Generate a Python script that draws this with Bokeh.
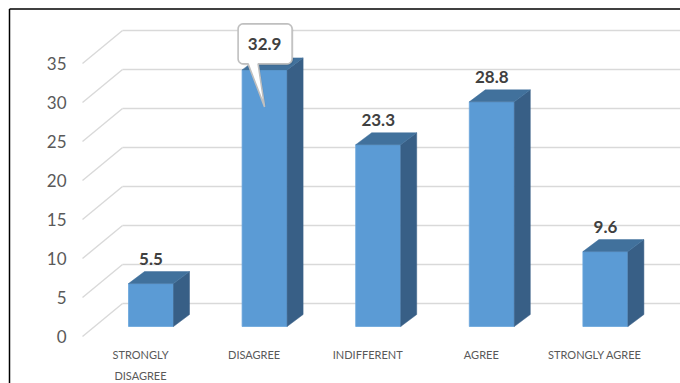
import math

from bokeh.plotting import figure
from bokeh.models import Range1d
from bokeh.core.properties import value
from bokeh.embed import file_html
from bokeh.resources import INLINE

# ---- data -------------------------------------------------------------
categories = ["STRONGLY DISAGREE", "DISAGREE", "INDIFFERENT", "AGREE", "STRONGLY AGREE"]
category_labels = ["STRONGLY\nDISAGREE", "DISAGREE", "INDIFFERENT", "AGREE", "STRONGLY AGREE"]
percentages = [5.5, 32.9, 23.3, 28.8, 9.6]
y_ticks = [0, 5, 10, 15, 20, 25, 30, 35]
callout_category = "DISAGREE"

# ---- canvas geometry (pixels) -----------------------------------------
W, H = 680, 383
SX = 113.6      # pixels per category step
SY = 7.8        # pixels per percentage point
FIRST_PX = 150.5  # centre of the first bar's front face
BASE_PX = 326     # bottom of the bars' front faces

X0 = -FIRST_PX / SX
X1 = X0 + W / SX
Y0 = -(H - BASE_PX) / SY
Y1 = BASE_PX / SY


def ux(px):
    """absolute canvas x (px) -> data x"""
    return X0 + px / SX


def uy(py):
    """absolute canvas y (px, from top) -> data y"""
    return (BASE_PX - py) / SY


def dx(px):
    return px / SX


def dy(px):
    return px / SY


FRONT_LEFT, FRONT_ZERO = 82, 336   # front edge of the floor
BACK_LEFT, BACK_ZERO = 122, 303    # back wall

FONT = value("Lato")
FRONT_COLOR = "#5b9bd5"
SIDE_COLOR = "#385f86"
TOP_COLOR = "#41719c"
GRID_COLOR = "#d9d9d9"
AXIS_TEXT = "#595959"
LABEL_TEXT = "#404040"

p = figure(
    width=W, height=H,
    x_range=Range1d(X0, X1), y_range=Range1d(Y0, Y1),
    x_axis_location=None, y_axis_location=None,
    toolbar_location=None, min_border=0,
    outline_line_color=None, background_fill_color="white",
    border_fill_color="white", output_backend="svg",
)
p.grid.visible = False

# ---- 3-D gridlines: diagonal along the side wall, horizontal on back wall
n = len(y_ticks)
p.segment(x0=[ux(FRONT_LEFT)] * n, y0=[uy(FRONT_ZERO) + t for t in y_ticks],
          x1=[ux(BACK_LEFT)] * n, y1=[uy(BACK_ZERO) + t for t in y_ticks],
          line_color=GRID_COLOR, line_width=1.4)
p.segment(x0=[ux(BACK_LEFT)] * n, y0=[uy(BACK_ZERO) + t for t in y_ticks],
          x1=[X1] * n, y1=[uy(BACK_ZERO) + t for t in y_ticks],
          line_color=GRID_COLOR, line_width=1.4)

# ---- y tick labels on the front plane
p.text(x=[ux(66)] * n, y=[uy(FRONT_ZERO) + t for t in y_ticks],
       text=[str(t) for t in y_ticks], text_font=FONT, text_font_size="17px",
       text_color=AXIS_TEXT, text_align="right", text_baseline="middle")

# ---- 3-D bars
xs_idx = list(range(len(categories)))
hw = dx(22.5)
ddx, ddy = dx(16), dy(12)

p.quad(left=[i - hw for i in xs_idx], right=[i + hw for i in xs_idx],
       bottom=[0] * len(xs_idx), top=percentages,
       fill_color=FRONT_COLOR, line_color="#6aa6dc", line_width=0.8)
p.patches(xs=[[i + hw, i + hw + ddx, i + hw + ddx, i + hw] for i in xs_idx],
          ys=[[0, ddy, v + ddy, v] for v in percentages],
          fill_color=SIDE_COLOR, line_color=SIDE_COLOR, line_width=0.5)
p.patches(xs=[[i - hw, i - hw + ddx, i + hw + ddx, i + hw] for i in xs_idx],
          ys=[[v, v + ddy, v + ddy, v] for v in percentages],
          fill_color=TOP_COLOR, line_color=TOP_COLOR, line_width=0.5)

# ---- category labels under the bars
p.text(x=[i + dx(-10.5) for i in xs_idx], y=[uy(347)] * len(xs_idx),
       text=category_labels, text_font=FONT, text_font_size="11px",
       text_color=AXIS_TEXT, text_align="center", text_baseline="top",
       text_line_height=1.62)

# ---- data labels
plain = [(i, v) for i, (c, v) in enumerate(zip(categories, percentages)) if c != callout_category]
p.text(x=[i for i, _ in plain], y=[v + dy(25) for _, v in plain],
       text=[f"{v:.1f}" for _, v in plain], text_font=FONT, text_font_size="17px",
       text_font_style="bold", text_color=LABEL_TEXT,
       text_align="center", text_baseline="middle")

# ---- callout bubble for the highlighted category


def bubble_outline(ci, v):
    """rounded box above the bar top with a pointer dropping onto the bar"""
    left, right, top, bottom, r = -26.5, 27.5, -46, -6, 5
    pts = []

    def arc(cx, cy, a0, a1):
        for k in range(7):
            a = math.radians(a0 + (a1 - a0) * k / 6)
            pts.append((cx + r * math.cos(a), cy + r * math.sin(a)))

    arc(right - r, top + r, -90, 0)
    arc(right - r, bottom - r, 0, 90)
    pts += [(-6.5, bottom), (0, 37), (-16.5, bottom)]
    arc(left + r, bottom - r, 90, 180)
    arc(left + r, top + r, 180, 270)
    return [ci + dx(px) for px, _ in pts], [v - dy(py) for _, py in pts]


ci = categories.index(callout_category)
cv = percentages[ci]
bx, by = bubble_outline(ci, cv)
p.patch(x=[x + dx(1.5) for x in bx], y=[y - dy(1.5) for y in by],
        fill_color="#000000", fill_alpha=0.08, line_color=None)
p.patch(x=bx, y=by, fill_color="white", line_color="#bfbfbf", line_width=1.6)
p.text(x=[ci], y=[cv + dy(26)], text=[f"{cv:.1f}"], text_font=FONT,
       text_font_size="17px", text_font_style="bold", text_color=LABEL_TEXT,
       text_align="center", text_baseline="middle")

# ---- chart frame (top and left edges)
p.segment(x0=[ux(9), ux(9)], y0=[uy(8.5), uy(8.5)], x1=[X1, ux(9)], y1=[uy(8.5), Y0],
          line_color="black", line_width=1.5)

open("out.html", "w").write(file_html(p, INLINE))
